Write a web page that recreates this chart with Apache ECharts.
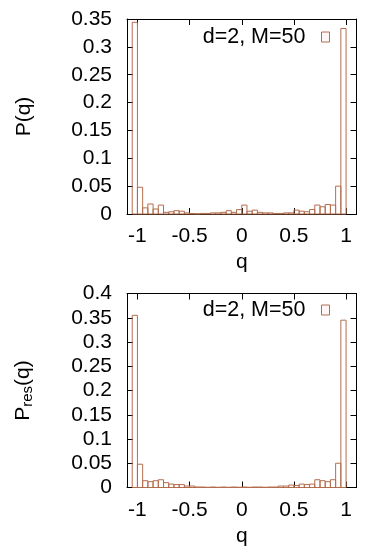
<!DOCTYPE html>
<html>
<head>
<meta charset="utf-8">
<script src="https://cdn.jsdelivr.net/npm/echarts@6/dist/echarts.min.js"></script>
<style>
html,body{margin:0;padding:0;background:#fff;}
#chart{width:369px;height:550px;}
</style>
</head>
<body>
<div id="chart"></div>
<script>
// bin edges (q)
var binEdges = [-1.05,-1.0,-0.95,-0.9,-0.85,-0.8,-0.75,-0.7,-0.65,-0.6,-0.55,-0.5,-0.45,-0.4,-0.35,-0.3,-0.25,-0.2,-0.15,-0.1,-0.05,0,0.05,0.1,0.15,0.2,0.25,0.3,0.35,0.4,0.45,0.5,0.55,0.6,0.65,0.7,0.75,0.8,0.85,0.9,0.95,1.0];
// P(q), top panel
var pq = [0.344,0.048,0.011,0.018,0.009,0.016,0.003,0.004,0.006,0.005,0.002,0.001,0.0005,0.001,0.001,0.002,0.002,0.003,0.006,0.003,0.008,0.016,0.005,0.007,0.003,0.002,0.002,0.001,0.001,0.002,0.002,0.007,0.005,0.004,0.008,0.016,0.013,0.017,0.016,0.050,0.333];
// P_res(q), bottom panel
var pres = [0.355,0.048,0.014,0.012,0.014,0.016,0.010,0.007,0.006,0.006,0.003,0.003,0.001,0.001,0.0005,0.001,0.0005,0.001,0.0005,0.001,0.0005,0.001,0.0005,0.001,0.001,0.0005,0.001,0.001,0.003,0.003,0.005,0.004,0.007,0.006,0.007,0.016,0.014,0.012,0.016,0.050,0.345];
var xTicks = [-1,-0.5,0,0.5,1];
var seriesName = 'd=2, M=50';

function toData(vals){
  var out=[];
  for(var i=0;i<vals.length;i++){ out.push([binEdges[i], binEdges[i+1], vals[i]]); }
  return out;
}
var barColor = '#b46e4e';
var font = 'Liberation Sans';
var fs = 21;

function renderItem(params, api){
  var p0 = api.coord([api.value(0), api.value(2)]);
  var p1 = api.coord([api.value(1), 0]);
  return {
    type:'rect',
    shape:{x:p0[0], y:p0[1], width:p1[0]-p0[0], height:p1[1]-p0[1]},
    style:{fill:'rgba(0,0,0,0)', stroke:barColor, lineWidth:1}
  };
}

function xAxes(gi){
  return [
    {gridIndex:gi, type:'value', min:-1.1, max:1.1, position:'bottom',
     name: 'q', nameLocation:'middle', nameGap:38,
     nameTextStyle:{fontFamily:font, fontSize:fs, color:'#000'},
     axisLine:{show:true, onZero:false, lineStyle:{color:'#000', width:1}},
     axisTick:{show:true, inside:true, length:6, customValues:xTicks, lineStyle:{color:'#000'}},
     axisLabel:{show:true, customValues:xTicks, margin:12, fontFamily:font, fontSize:fs, color:'#000'},
     splitLine:{show:false}},
    {gridIndex:gi, type:'value', min:-1.1, max:1.1, position:'top',
     axisLine:{show:true, onZero:false, lineStyle:{color:'#000', width:1}},
     axisTick:{show:true, inside:true, length:6, customValues:xTicks, lineStyle:{color:'#000'}},
     axisLabel:{show:false},
     splitLine:{show:false}}
  ];
}
function yAxes(gi, max, name){
  return [
    {gridIndex:gi, type:'value', min:0, max:max, interval:0.05, position:'left',
     name:name, nameLocation:'middle', nameGap:92, nameRotate:90,
     nameTextStyle:{fontFamily:font, fontSize:fs, color:'#000',
       rich:{sub:{fontFamily:font, fontSize:15, color:'#000', padding:[8,0,0,0]}, n:{fontFamily:font, fontSize:fs, color:'#000'}}},
     axisLine:{show:true, onZero:false, lineStyle:{color:'#000', width:1}},
     axisTick:{show:true, inside:true, length:6, lineStyle:{color:'#000'}},
     axisLabel:{show:true, margin:15, fontFamily:font, fontSize:fs, color:'#000'},
     splitLine:{show:false}},
    {gridIndex:gi, type:'value', min:0, max:max, interval:0.05, position:'right',
     axisLine:{show:true, onZero:false, lineStyle:{color:'#000', width:1}},
     axisTick:{show:true, inside:true, length:6, lineStyle:{color:'#000'}},
     axisLabel:{show:false},
     splitLine:{show:false}}
  ];
}

var legendItem = {name:seriesName, icon:'rect', itemStyle:{color:'#fff6f6', borderColor:barColor, borderWidth:1}};
function legendAt(top){
  return {data:[legendItem], right:39, top:top, align:'right', itemWidth:8, itemHeight:10,
    selectedMode:false, padding:0,
    textStyle:{fontFamily:font, fontSize:21.5, color:'#000', padding:[0,11,0,0]}};
}

var chart = echarts.init(document.getElementById('chart'), null, {renderer:'canvas'});
chart.setOption({
  animation:false,
  backgroundColor:'#fff',
  grid:[
    {left:127, top:19, width:229.5, height:195},
    {left:127, top:293.5, width:229.5, height:194}
  ],
  xAxis: xAxes(0).concat(xAxes(1)),
  yAxis: yAxes(0, 0.35, 'P(q)').concat(yAxes(1, 0.4, '{n|P}{sub|res}{n|(q)}')),
  legend:[legendAt(26), legendAt(299)],
  series:[
    {name:seriesName, type:'custom', xAxisIndex:0, yAxisIndex:0, renderItem:renderItem,
     encode:{x:[0,1], y:2}, data:toData(pq), itemStyle:{color:'#fff6f6', borderColor:barColor}},
    {name:seriesName, type:'custom', xAxisIndex:2, yAxisIndex:2, renderItem:renderItem,
     encode:{x:[0,1], y:2}, data:toData(pres), itemStyle:{color:'#fff6f6', borderColor:barColor}}
  ]
});
</script>
</body>
</html>
